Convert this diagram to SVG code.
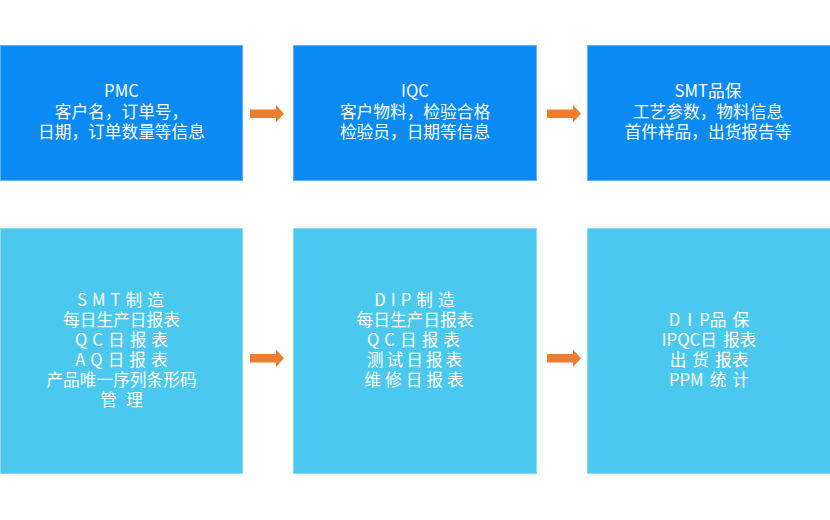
<svg xmlns="http://www.w3.org/2000/svg" width="830" height="520" viewBox="0 0 830 520">
<style>
.top{fill:#0a8af5;stroke:#5fb3f8;stroke-width:1}
.bot{fill:#4ac8ee;stroke:#8adcf4;stroke-width:1}
text{font-family:"Noto Sans CJK SC","Noto Sans",sans-serif;fill:#ffffff;text-anchor:middle}
.t{font-size:16.7px}
.b{font-size:16.7px}
.arrow{fill:#ed7d31}
</style>
<rect width="830" height="520" fill="#ffffff"/>
<g id="pmc">
<rect class="top" x="0.5" y="45.5" width="242" height="135"/>
<text class="t" x="121.5" y="97">PMC</text>
<text class="t" x="121.5" y="118">客户名，订单号，</text>
<text class="t" x="121.5" y="138">日期，订单数量等信息</text>
</g>
<g id="iqc">
<rect class="top" x="293.5" y="45.5" width="243" height="135"/>
<text class="t" x="415" y="97">IQC</text>
<text class="t" x="415" y="118">客户物料，检验合格</text>
<text class="t" x="415" y="138">检验员，日期等信息</text>
</g>
<g id="smt-qa">
<rect class="top" x="587.5" y="45.5" width="243" height="135"/>
<text class="t" x="708" y="97">SMT品保</text>
<text class="t" x="708" y="118">工艺参数，物料信息</text>
<text class="t" x="708" y="138">首件样品，出货报告等</text>
</g>
<g id="smt-mfg">
<rect class="bot" x="0.5" y="228.5" width="242" height="245"/>
<text class="b" x="123" y="306" letter-spacing="5">SMT制造</text>
<text class="b" x="121.5" y="326">每日生产日报表</text>
<text class="b" x="124" y="346" letter-spacing="5">QC日报表</text>
<text class="b" x="124" y="366" letter-spacing="5">AQ日报表</text>
<text class="b" x="121.5" y="386">产品唯一序列条形码</text>
<text class="b" x="126" y="406" letter-spacing="9">管理</text>
</g>
<g id="dip-mfg">
<rect class="bot" x="293.5" y="228.5" width="243" height="245"/>
<text class="b" x="417" y="306" letter-spacing="5">DIP制造</text>
<text class="b" x="415" y="326">每日生产日报表</text>
<text class="b" x="416" y="346" letter-spacing="5">QC日报表</text>
<text class="b" x="416" y="366" letter-spacing="3">测试日报表</text>
<text class="b" x="416" y="386" letter-spacing="4">维修日报表</text>
</g>
<g id="dip-qa">
<rect class="bot" x="587.5" y="228.5" width="243" height="245"/>
<text class="b" x="709" y="326"><tspan letter-spacing="7">DI</tspan>P品<tspan dx="6">保</tspan></text>
<text class="b" x="709" y="346">IPQC日<tspan dx="6">报表</tspan></text>
<text class="b" x="709" y="366">出<tspan dx="6">货</tspan><tspan dx="6">报表</tspan></text>
<text class="b" x="709" y="386">PPM<tspan dx="6">统</tspan><tspan dx="6">计</tspan></text>
</g>
<g id="connectors">
<polygon class="arrow" points="250,109.5 276,109.5 276,105 284,113.7 276,122.3 276,118 250,118"/>
<polygon class="arrow" points="547,109.5 573,109.5 573,105 581,113.7 573,122.3 573,118 547,118"/>
<polygon class="arrow" points="250,354 276,354 276,349.5 284,358.3 276,367 276,362.6 250,362.6"/>
<polygon class="arrow" points="547,354 573,354 573,349.5 581,358.3 573,367 573,362.6 547,362.6"/>
</g>
</svg>
